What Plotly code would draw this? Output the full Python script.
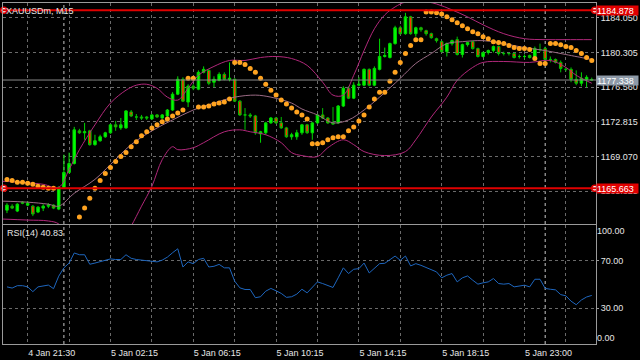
import plotly.graph_objects as go

# ---------------- data ----------------
bars = list(range(114))
open_ = [1163.29, 1163.72, 1163.19, 1164.15, 1163.83, 1163.72, 1163.08, 1163.51, 1163.72, 1163.83,
         1163.40, 1165.75, 1167.36, 1168.32, 1171.85, 1171.64, 1171.85, 1170.36, 1170.78, 1171.21,
         1171.64, 1172.50, 1172.17, 1172.17, 1173.89, 1173.35, 1173.35, 1173.35, 1173.14, 1173.57,
         1173.24, 1173.46, 1174.10, 1175.81, 1177.42, 1174.96, 1176.67, 1176.35, 1178.17, 1178.38,
         1177.10, 1177.31, 1177.95, 1177.42, 1177.42, 1175.06, 1173.57, 1173.57, 1173.46, 1171.53,
         1171.64, 1172.71, 1173.24, 1172.71, 1172.17, 1171.21, 1171.21, 1171.64, 1172.50, 1171.64,
         1172.71, 1173.57, 1173.24, 1172.71, 1172.71, 1174.53, 1176.45, 1175.38, 1176.78, 1176.78,
         1178.49, 1176.78, 1178.49, 1179.88, 1179.77, 1181.27, 1182.98, 1182.34, 1184.16, 1182.34,
         1182.98, 1182.66, 1182.34, 1181.80, 1181.48, 1180.41, 1181.27, 1181.70, 1180.09, 1181.16,
         1181.48, 1180.73, 1179.88, 1180.31, 1180.52, 1180.95, 1180.20, 1180.20, 1180.20, 1179.88,
         1179.88, 1179.99, 1179.77, 1180.63, 1180.73, 1179.56, 1179.56, 1179.24, 1178.49, 1178.49,
         1177.42, 1176.99, 1177.42, 1177.40]
high = [1164.04, 1163.93, 1164.04, 1164.26, 1164.26, 1163.83, 1163.72, 1163.93, 1164.04, 1163.93,
        1165.86, 1169.28, 1169.50, 1172.28, 1172.07, 1172.71, 1171.96, 1171.43, 1171.43, 1171.75,
        1172.60, 1172.92, 1173.24, 1174.10, 1174.10, 1173.67, 1173.57, 1173.46, 1173.67, 1173.67,
        1173.67, 1174.21, 1176.03, 1177.74, 1177.63, 1176.88, 1176.88, 1178.38, 1178.81, 1178.49,
        1177.74, 1178.17, 1178.17, 1179.24, 1177.52, 1175.17, 1174.31, 1173.78, 1173.57, 1171.85,
        1172.82, 1173.35, 1173.35, 1173.35, 1172.28, 1171.64, 1171.96, 1172.60, 1172.60, 1172.82,
        1173.67, 1174.31, 1173.35, 1174.42, 1174.64, 1176.67, 1176.67, 1177.10, 1177.63, 1178.59,
        1178.59, 1178.81, 1181.80, 1180.84, 1181.38, 1183.20, 1183.20, 1184.59, 1184.27, 1183.09,
        1183.09, 1182.77, 1182.45, 1181.91, 1181.59, 1181.38, 1181.70, 1182.02, 1181.27, 1181.48,
        1181.59, 1180.84, 1180.41, 1180.63, 1181.06, 1181.06, 1180.41, 1180.31, 1180.31, 1180.09,
        1180.09, 1180.09, 1180.95, 1181.27, 1180.95, 1179.88, 1179.66, 1179.45, 1178.70, 1178.70,
        1178.38, 1178.17, 1177.85, 1177.60]
low = [1162.97, 1163.40, 1163.08, 1163.93, 1163.72, 1162.65, 1162.97, 1163.19, 1163.51, 1163.40,
       1163.29, 1165.65, 1167.25, 1168.22, 1171.53, 1170.89, 1170.25, 1170.25, 1170.68, 1171.10,
       1171.53, 1171.85, 1171.96, 1172.07, 1173.35, 1173.03, 1173.03, 1173.03, 1173.03, 1173.24,
       1173.14, 1173.35, 1174.00, 1175.71, 1174.96, 1174.42, 1176.24, 1176.24, 1178.06, 1176.78,
       1176.56, 1177.20, 1177.31, 1177.20, 1174.96, 1173.46, 1171.96, 1173.24, 1171.43, 1170.57,
       1171.43, 1172.60, 1172.60, 1172.07, 1171.10, 1170.89, 1170.89, 1171.43, 1171.53, 1170.89,
       1172.60, 1173.14, 1172.60, 1172.50, 1172.60, 1174.42, 1175.28, 1175.28, 1176.67, 1176.67,
       1176.67, 1176.67, 1178.38, 1179.77, 1179.66, 1181.16, 1182.23, 1182.23, 1182.23, 1182.02,
       1182.55, 1182.13, 1181.80, 1181.38, 1180.31, 1179.88, 1181.06, 1179.99, 1179.77, 1180.95,
       1180.63, 1179.77, 1179.77, 1180.09, 1180.31, 1179.99, 1179.99, 1179.99, 1179.66, 1179.66,
       1179.66, 1179.66, 1179.56, 1180.41, 1179.24, 1179.24, 1179.13, 1178.17, 1178.27, 1177.10,
       1176.78, 1176.67, 1176.56, 1177.31]
close = [1163.83, 1163.51, 1163.93, 1164.04, 1164.04, 1162.87, 1163.61, 1163.72, 1163.83, 1163.51,
         1165.75, 1167.36, 1168.32, 1171.96, 1171.64, 1171.75, 1170.36, 1170.78, 1171.21, 1171.64,
         1172.50, 1172.28, 1172.50, 1174.00, 1173.46, 1173.35, 1173.24, 1173.24, 1173.57, 1173.35,
         1173.57, 1174.10, 1175.81, 1177.42, 1175.06, 1176.67, 1176.45, 1178.17, 1178.49, 1176.99,
         1177.42, 1177.95, 1177.42, 1177.52, 1175.06, 1173.57, 1173.57, 1173.46, 1171.64, 1171.75,
         1172.71, 1173.24, 1172.71, 1172.17, 1171.21, 1171.43, 1171.64, 1172.50, 1171.64, 1172.71,
         1173.57, 1173.24, 1172.71, 1172.60, 1174.53, 1176.45, 1175.38, 1176.78, 1176.88, 1178.49,
         1176.78, 1178.59, 1179.88, 1179.99, 1181.27, 1182.98, 1182.34, 1184.16, 1182.34, 1182.98,
         1182.77, 1182.34, 1181.91, 1181.59, 1180.41, 1181.27, 1181.59, 1180.09, 1181.16, 1181.38,
         1180.73, 1179.88, 1180.31, 1180.52, 1180.95, 1180.20, 1180.20, 1180.20, 1179.77, 1179.88,
         1179.88, 1179.77, 1180.73, 1180.63, 1179.56, 1179.56, 1179.24, 1178.59, 1178.49, 1177.42,
         1176.99, 1177.52, 1177.63, 1177.338]

sar = [1166.61, 1166.50, 1166.29, 1166.29, 1166.18, 1166.08, 1165.86, 1165.75, 1165.65, 1165.65,
       1159.00, 1159.70, 1160.51, 1161.47, 1162.54, 1163.51, 1164.58, 1165.65, 1166.50, 1167.25,
       1167.89, 1168.54, 1169.07, 1169.50, 1170.14, 1170.68, 1171.32, 1171.75, 1172.17, 1172.50,
       1172.82, 1173.14, 1173.46, 1173.78, 1174.10, 1177.52, 1177.52, 1174.42, 1174.42, 1174.53,
       1174.74, 1174.85, 1174.96, 1175.28, 1179.24, 1179.24, 1179.02, 1178.59, 1178.17, 1177.52,
       1176.88, 1176.24, 1175.71, 1175.17, 1174.74, 1174.31, 1173.89, 1173.57, 1173.14, 1170.46,
       1170.46, 1170.57, 1170.89, 1171.10, 1171.21, 1171.21, 1171.85, 1172.28, 1172.92, 1173.57,
       1174.42, 1175.28, 1176.03, 1176.03, 1177.20, 1178.17, 1179.24, 1180.20, 1181.06, 1181.70,
       1181.70, 1184.69, 1184.69, 1184.59, 1184.48, 1184.16, 1183.84, 1183.52, 1183.20, 1182.87,
       1182.55, 1182.34, 1182.02, 1181.80, 1181.48, 1181.38, 1181.27, 1181.06, 1180.84, 1180.73,
       1180.73, 1180.63, 1179.66, 1179.13, 1179.13, 1181.27, 1181.27, 1181.16, 1180.95, 1180.84,
       1180.52, 1180.20, 1179.77, 1179.45]

bb_upper_x = [-1, 3, 7, 10, 12, 14, 17, 20, 23, 25, 27, 29, 31, 33, 35, 37, 40, 43, 46, 49, 52, 55,
              58, 61, 63, 65, 67, 69, 71, 73, 75, 77, 80, 83, 86, 89, 92, 96, 100, 104, 108, 113]
bb_upper = [1166.40, 1166.29, 1166.08, 1165.75, 1167.68, 1169.82, 1172.50, 1174.85, 1176.24, 1176.78,
            1176.88, 1176.45, 1175.49, 1175.17, 1176.45, 1177.85, 1178.81, 1179.45, 1179.45, 1179.77,
            1179.88, 1179.66, 1178.92, 1177.10, 1175.71, 1175.71, 1177.85, 1180.52, 1182.87, 1184.37,
            1185.23, 1185.76, 1185.87, 1185.55, 1184.91, 1184.16, 1183.30, 1182.34, 1181.80, 1181.70,
            1181.70, 1181.70]
bb_mid_x = [-1, 4, 8, 10, 13, 17, 20, 24, 28, 32, 36, 40, 44, 48, 51, 55, 57, 60, 63, 66, 69, 72,
            76, 79, 82, 85, 88, 92, 96, 100, 104, 108, 112, 113]
bb_mid = [1164.26, 1164.15, 1163.93, 1163.72, 1165.11, 1166.61, 1168.22, 1170.36, 1171.85, 1173.03,
          1174.10, 1174.85, 1175.49, 1175.71, 1175.49, 1174.85, 1174.21, 1173.57, 1172.71, 1173.03,
          1174.10, 1175.49, 1177.52, 1179.13, 1180.20, 1181.27, 1181.48, 1181.59, 1181.27, 1180.84,
          1180.52, 1180.09, 1179.66, 1179.56]
bb_lower_x = [-1, 4, 8, 10, 12, 15, 18, 21, 23, 24, 26, 28, 30, 32, 33, 36, 38, 42, 45, 47, 50, 53,
              55, 57, 60, 62, 65, 67, 69, 73, 77, 79, 82, 85, 87, 90, 92, 96, 101, 105, 108, 110, 113]
bb_lower = [1162.33, 1162.22, 1162.12, 1161.80, 1160.19, 1158.59, 1158.26, 1159.33, 1160.73, 1161.58,
            1163.72, 1165.86, 1168.75, 1170.14, 1169.82, 1170.03, 1170.57, 1171.75, 1171.96, 1171.75,
            1171.43, 1170.57, 1169.50, 1169.18, 1169.07, 1170.03, 1170.89, 1170.36, 1169.61, 1169.18,
            1169.61, 1170.89, 1173.35, 1175.49, 1177.31, 1178.70, 1179.24, 1179.34, 1179.24, 1179.45,
            1178.70, 1177.85, 1176.99]

rsi = [48, 47, 49, 49, 48, 44, 48, 49, 49.5, 46.5, 57, 64, 68, 76.5, 75, 75, 67, 68, 69, 70.5,
       71.5, 71, 71, 75, 72, 71, 70.5, 70, 70, 69, 70.5, 73, 76.7, 80, 64.7, 69, 67.5, 71, 72, 64.7,
       65.3, 66.9, 64, 64, 52.8, 47.2, 45.8, 45.8, 38.9, 39.7, 44.4, 46.7, 44.7, 42.5, 39.2, 39.7,
       41.9, 46, 43, 48, 52.2, 50.8, 48.9, 47.5, 55.6, 64, 59.2, 62.8, 63.3, 68, 59.7, 64, 67.5,
       67.8, 71, 73.9, 70.3, 73.9, 65.6, 67.5, 66.1, 64.2, 62.5, 60.6, 55.6, 57.8, 59.2, 52.2, 55.6,
       57.2, 53.6, 50.3, 51.4, 52.2, 55, 50.8, 50.3, 50.8, 48, 48.9, 49.4, 48, 54.4, 54.4, 46.7, 46,
       45.5, 41.5, 40.5, 36, 33, 37, 39.5, 40.83]

price_ticks = [1184.050, 1180.305, 1176.560, 1172.815, 1169.070, 1165.325]
rsi_ticks = [70, 30]
grid_bars = [4, 12, 20, 28, 36, 44, 52, 60, 68, 76, 84, 92, 100, 108]
grid_labels = ["4 Jan 21:30", "", "5 Jan 02:15", "", "5 Jan 06:15", "", "5 Jan 10:15", "",
               "5 Jan 14:15", "", "5 Jan 18:15", "", "5 Jan 23:00", ""]
day_separators = [11, 104]
level_high = 1184.878
level_low = 1165.663
bid = 1177.338
title = "XAUUSDm, M15"
rsi_title = "RSI(14) 40.83"

# ---------------- style ----------------
FONT = "Liberation Sans, Arial, sans-serif"
TXT = "#E6E6E6"
GRID = "#6A6A6A"
BORDER = "#9A9A9A"
X0, X1 = -0.768, 113.82
Y0, Y1 = 1161.76, 1185.655

fig = go.Figure()
fig.add_trace(go.Candlestick(
    x=bars, open=open_, high=high, low=low, close=close,
    increasing=dict(fillcolor="#00FF00", line=dict(color="#00D800", width=1)),
    decreasing=dict(fillcolor="#FF3000", line=dict(color="#00C000", width=1)),
    whiskerwidth=0, xaxis="x", yaxis="y", hoverinfo="skip", showlegend=False))

band_col = "#B0287A"
fig.add_trace(go.Scatter(x=bb_upper_x, y=bb_upper, mode="lines", line=dict(color=band_col, width=1, shape="spline"),
                         xaxis="x", yaxis="y", hoverinfo="skip"))
fig.add_trace(go.Scatter(x=bb_lower_x, y=bb_lower, mode="lines", line=dict(color=band_col, width=1, shape="spline"),
                         xaxis="x", yaxis="y", hoverinfo="skip"))
fig.add_trace(go.Scatter(x=bb_mid_x, y=bb_mid, mode="lines", line=dict(color="#9A6A84", width=1, shape="spline"),
                         xaxis="x", yaxis="y", hoverinfo="skip"))
fig.add_trace(go.Scatter(x=bars, y=sar, mode="markers",
                         marker=dict(color="#FFA320", size=5, symbol="circle", line=dict(width=0)),
                         xaxis="x", yaxis="y", hoverinfo="skip"))
# end handles of the horizontal lines
fig.add_trace(go.Scatter(x=[X0 + 0.15, X1 - 0.25, X0 + 0.15, X1 - 0.25],
                         y=[level_high, level_high, level_low, level_low], mode="markers",
                         marker=dict(color="white", size=6, line=dict(color="#E00000", width=1.5)),
                         xaxis="x", yaxis="y", hoverinfo="skip", cliponaxis=False))

fig.add_trace(go.Scatter(x=bars, y=rsi, mode="lines", line=dict(color="#1E66BE", width=1),
                         xaxis="x2", yaxis="y2", hoverinfo="skip"))
fig.add_trace(go.Scatter(x=[None], y=[None], xaxis="x2", yaxis="y3", hoverinfo="skip"))
fig.add_trace(go.Scatter(x=[None], y=[None], xaxis="x2", yaxis="y4", hoverinfo="skip"))

xcommon = dict(range=[X0, X1], tickvals=grid_bars, showgrid=True, gridcolor=GRID, griddash="3px,3px",
               gridwidth=1, showline=True, mirror=True, linecolor=BORDER, linewidth=1, zeroline=False,
               ticks="", fixedrange=True)
ycommon = dict(side="right", showgrid=True, gridcolor=GRID, griddash="3px,3px", gridwidth=1,
               showline=True, mirror=True, linecolor=BORDER, linewidth=1, zeroline=False,
               ticks="outside", ticklen=2, tickcolor=BORDER, fixedrange=True,
               tickfont=dict(family=FONT, size=9, color=TXT))

fig.update_layout(
    width=640, height=360, margin=dict(l=2, r=41, t=2, b=14),
    paper_bgcolor="black", plot_bgcolor="black", showlegend=False,
    xaxis=dict(anchor="y", showticklabels=False, rangeslider=dict(visible=False), **xcommon),
    xaxis2=dict(anchor="y2", matches="x", ticktext=grid_labels, ticklabelposition="outside right",
                tickfont=dict(family=FONT, size=9, color=TXT), **xcommon),
    yaxis=dict(domain=[0.351, 1], range=[Y0, Y1], tickvals=price_ticks, tickformat=".3f", anchor="x", **ycommon),
    yaxis2=dict(domain=[0, 0.349], range=[0, 100], tickvals=rsi_ticks, tickformat=".2f", anchor="x2", **ycommon),
    yaxis3=dict(overlaying="y2", anchor="x2", side="right", range=[0, 100], tickvals=[100], tickformat=".2f",
                ticklabelposition="outside bottom", showgrid=False, showline=False, zeroline=False, ticks="",
                fixedrange=True, tickfont=dict(family=FONT, size=9, color=TXT)),
    yaxis4=dict(overlaying="y2", anchor="x2", side="right", range=[0, 100], tickvals=[0], tickformat=".2f",
                ticklabelposition="outside top", showgrid=False, showline=False, zeroline=False, ticks="",
                fixedrange=True, tickfont=dict(family=FONT, size=9, color=TXT)),
)

shapes = []
for b in day_separators:
    shapes.append(dict(type="line", xref="x", yref="paper", x0=b, x1=b, y0=0, y1=1, layer="below",
                       line=dict(color="#C8C8C8", width=1, dash="3px,3px")))
shapes.append(dict(type="line", xref="paper", yref="y", x0=0, x1=1, y0=bid, y1=bid,
                   line=dict(color="#8A8A8A", width=1)))
for lv in (level_high, level_low):
    shapes.append(dict(type="line", xref="paper", yref="y", x0=0, x1=1, y0=lv, y1=lv,
                       line=dict(color="#E00000", width=2)))
fig.update_layout(shapes=shapes)

ann = [
    dict(text=title, xref="paper", yref="paper", x=0, y=1, xanchor="left", yanchor="top", xshift=1, yshift=-1,
         showarrow=False, font=dict(family=FONT, size=9, color=TXT)),
    dict(text=rsi_title, xref="paper", yref="paper", x=0, y=0.349, xanchor="left", yanchor="top", xshift=2,
         yshift=-1, showarrow=False, font=dict(family=FONT, size=9, color=TXT)),
]
for lv, bg in ((level_high, "#E00000"), (level_low, "#E00000"), (bid, "#8E9AA8")):
    ann.append(dict(text=f"{lv:.3f}", xref="paper", yref="y", x=1, y=lv, xanchor="left", yanchor="middle",
                    showarrow=False, bgcolor=bg, borderpad=0, width=41, height=9, align="left",
                    font=dict(family=FONT, size=9, color="white")))
fig.update_layout(annotations=ann)

fig.write_html("out.html", config={"displayModeBar": False, "staticPlot": True},
               post_script="document.body.style.margin='0';")
